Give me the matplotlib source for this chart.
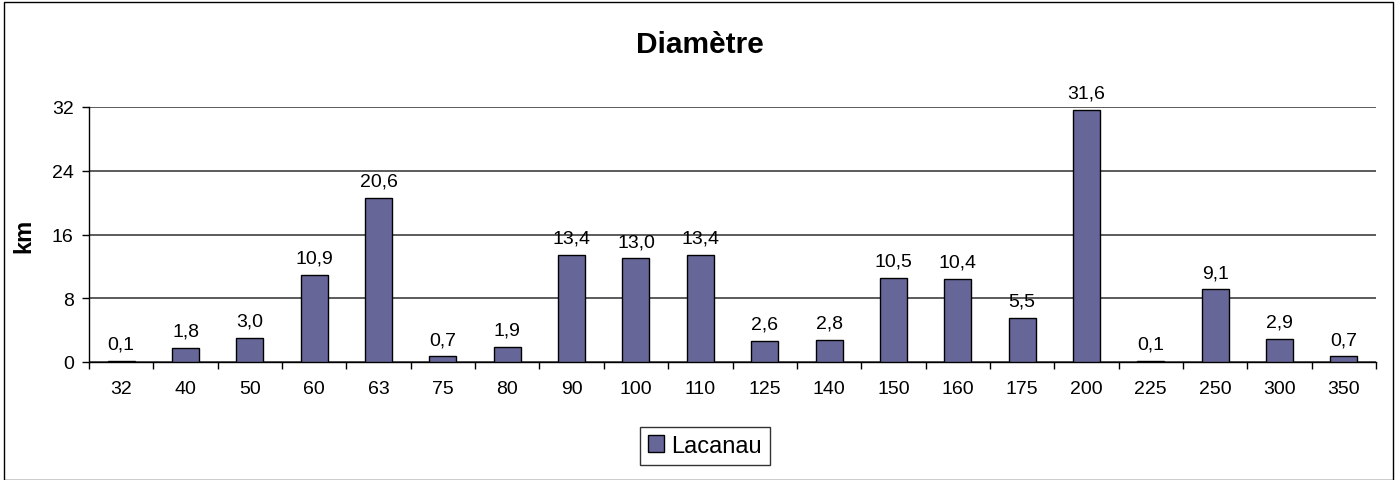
import matplotlib
matplotlib.use("Agg")
import matplotlib.pyplot as plt
from matplotlib.patches import Rectangle

categories = ["32", "40", "50", "60", "63", "75", "80", "90", "100", "110",
              "125", "140", "150", "160", "175", "200", "225", "250", "300", "350"]
values = [0.1, 1.8, 3.0, 10.9, 20.6, 0.7, 1.9, 13.4, 13.0, 13.4,
          2.6, 2.8, 10.5, 10.4, 5.5, 31.6, 0.1, 9.1, 2.9, 0.7]
labels = ["0,1", "1,8", "3,0", "10,9", "20,6", "0,7", "1,9", "13,4", "13,0", "13,4",
          "2,6", "2,8", "10,5", "10,4", "5,5", "31,6", "0,1", "9,1", "2,9", "0,7"]
yticks = [0, 8, 16, 24, 32]

plt.rcParams['font.family'] = ['Liberation Sans', 'DejaVu Sans']

fig = plt.figure(figsize=(14, 4.81), dpi=100)
ax = fig.add_axes([89/1400, 1-363/481, (1376-89)/1400, (363-108)/481])

x = list(range(len(categories)))
ax.bar(x, values, width=0.42, color="#666699", edgecolor="black", linewidth=1, zorder=3,
       label="Lacanau")
for xi, v, lab in zip(x, values, labels):
    ax.annotate(lab, (xi, v), xytext=(0, 6), textcoords="offset points",
                ha="center", va="bottom", fontsize=14)

ax.set_xlim(-0.5, len(categories) - 0.5)
ax.set_ylim(0, 32)
ax.set_yticks(yticks)
ax.set_yticklabels([str(t) for t in yticks], fontsize=14)
ax.yaxis.grid(True, color="#404040", linewidth=1.2, zorder=0)
ax.set_xticks(x)
ax.set_xticklabels(categories, fontsize=14)
ax.tick_params(axis="x", length=0, pad=13)
ax.set_xticks([i + 0.5 for i in range(-1, len(categories))], minor=True)
ax.tick_params(axis="x", which="minor", length=5, direction="out", width=1)
ax.tick_params(axis="y", length=5, direction="out", width=1, pad=6)
for s in ["top", "right"]:
    ax.spines[s].set_visible(False)
ax.spines["left"].set_linewidth(1)
ax.spines["bottom"].set_linewidth(1)
ax.set_ylabel("km", fontsize=17, fontweight="bold")
ax.yaxis.set_label_coords(-(89 - 35) / (1376 - 89), 0.5)

fig.text(700/1400, 1-45/481, "Diamètre", ha="center", va="center", fontsize=21.5, fontweight="bold")

leg = fig.legend(loc="center", bbox_to_anchor=(705/1400, 1-447/481), fontsize=17,
                 frameon=True, fancybox=False, edgecolor="black", handlelength=0.7,
                 handleheight=0.7, handletextpad=0.3, borderpad=0.35)
leg.get_frame().set_linewidth(1)

fig.patches.append(Rectangle((4/1400, 0), (1393-4)/1400, 1-3/481, transform=fig.transFigure,
                             fill=False, edgecolor="black", linewidth=1))

fig.savefig("out.png", dpi=100)
